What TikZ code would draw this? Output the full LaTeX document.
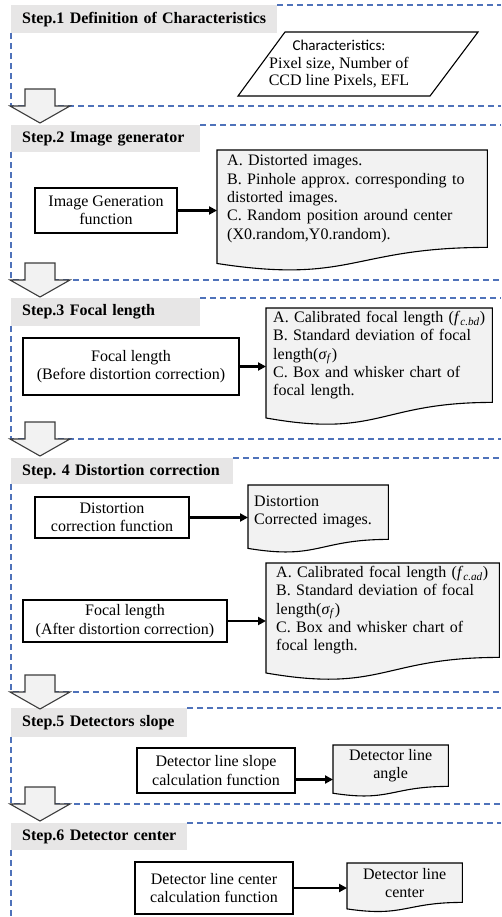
\documentclass[tikz,border=0pt]{standalone}
\usepackage{fontspec}
\setmainfont{Liberation Serif}
\newfontfamily\charfont{Carlito}
\usetikzlibrary{arrows.meta,backgrounds,calc}

\definecolor{framecol}{RGB}{79,114,186}
\definecolor{bandgray}{RGB}{231,230,230}
\definecolor{docgray}{RGB}{242,242,242}
\definecolor{arrgray}{RGB}{60,60,60}

\tikzset{
  stepband/.style={rectangle, fill=bandgray, anchor=north west,
    inner xsep=11pt, inner ysep=0pt, minimum height=28pt, align=left,
    font=\fontsize{16}{18}\selectfont\bfseries},
  procbox/.style={rectangle, draw, fill=white, line width=1.2pt, align=center},
  procline/.style={draw, line width=1.1pt},
  docbox/.style={rectangle, anchor=north west, inner ysep=2pt, align=left},
  docline/.style={draw, fill=docgray, line width=1.1pt},
  flowarrow/.style={-{Triangle[length=8pt,width=8pt]}, line width=2.2pt},
  stepframe/.style={draw=framecol, line width=1.2pt, dash pattern=on 6pt off 4pt},
  blockarr/.style={draw=arrgray, fill=docgray, line width=1.1pt}
}

\newcommand{\docwave}[1]{%
  \begin{scope}[on background layer]
    \draw[docline] let \p1=(#1.south west), \p2=(#1.north east),
      \p3=($(#1.south west)!0.5!(#1.south east)$) in
      (\x1,\y2) -- (\x2,\y2) -- (\x2,\y1)
      .. controls (\x3,\y1) and (\x3,{\y1-0.38*(\y2-\y1)}) .. (\x1,{\y1-0.165*(\y2-\y1)}) -- cycle;
  \end{scope}}
\newcommand{\blockdown}[1]{%
  \draw[blockarr] (25,#1-17) -- (55,#1-17) -- (55,#1) -- (70,#1) -- (40,#1+17) -- (10,#1) -- (25,#1) -- cycle;}

\begin{document}
\frenchspacing
\begin{tikzpicture}[x=1pt, y=-1pt, font=\fontsize{16}{18.3}\selectfont]
\useasboundingbox (0,0) rectangle (501,917);
\coordinate (edge) at (501,0);

\node[stepband, text width=244pt] (s1) at (11,5) {\mbox{Step.1 Definition of Characteristics}};
\node[stepband, text width=167pt, minimum height=27pt] (s2) at (11,125) {\mbox{Step.2 Image generator}};
\node[stepband, text width=167pt] (s3) at (11,298) {\mbox{Step.3 Focal length}};
\node[stepband, text width=200pt, minimum height=26pt] (s4) at (11,458) {\mbox{Step. 4 Distortion correction}};
\node[stepband, text width=154pt, minimum height=29pt] (s5) at (11,708) {\mbox{Step.5 Detectors slope}};
\node[stepband, text width=154pt, minimum height=27pt] (s6) at (11,823) {\mbox{Step.6 Detector center}};

\foreach \s/\b in {s1/106, s2/280, s3/439, s4/692, s5/804, s6/940} {
  \coordinate (bot) at (0,\b);
  \draw[stepframe] (\s.north east) -- (\s.north east -| edge);
  \draw[stepframe] (\s.south west) |- (edge |- bot);
}

\node[align=center, font=\fontsize{16}{17.5}\selectfont] (chars) at (339,64.5)
  {{\charfont\fontsize{15}{17.5}\selectfont Characteristics:}\\Pixel size, Number of\\CCD line Pixels, EFL};
\draw[procline] (238,96) -- (285,32) -- (478,32) -- (430,96) -- cycle;

\node[procbox, minimum width=142pt, minimum height=45pt] (imggen) at (106,210.5) {Image Generation\\function};
\node[docbox, inner xsep=10pt, text width=250pt, minimum height=97pt] (imgout) at (217,150)
  {A. Distorted images.\\B. Pinhole approx. corresponding to\\distorted images.\\C. Random position around center\\(X0.random,Y0.random).};
\docwave{imgout}
\draw[flowarrow] (imggen.east) -- (imggen.east -| imgout.west);

\node[procbox, minimum width=216pt, minimum height=57pt] (fbefore) at (131,366.5) {Focal length\\(Before distortion correction)};
\node[docbox, inner xsep=7pt, text width=212pt, minimum height=94pt] (fbout) at (266,308)
  {A. Calibrated focal length (\textit{f}\textsubscript{\textit{c.bd}})\\B. Standard deviation of focal\\length(\textit{σ}\textsubscript{\textit{f}})\\C. Box and whisker chart of\\focal length.};
\docwave{fbout}
\draw[flowarrow] (fbefore.east) -- (fbefore.east -| fbout.west);

\node[procbox, minimum width=154pt, minimum height=41pt] (distfn) at (112,517.5) {Distortion\\correction function};
\node[docbox, inner xsep=6pt, text width=128pt, minimum height=54pt] (distout) at (248,485)
  {Distortion\\Corrected images.};
\docwave{distout}
\draw[flowarrow] (distfn.east) -- (distfn.east -| distout.west);

\node[procbox, minimum width=204pt, minimum height=42pt] (fafter) at (125,621) {Focal length\\(After distortion correction)};
\node[docbox, inner xsep=10pt, text width=213pt, minimum height=94pt] (faout) at (266,563)
  {A. Calibrated focal length (\textit{f}\textsubscript{\textit{c.ad}})\\B. Standard deviation of focal\\length(\textit{σ}\textsubscript{\textit{f}})\\C. Box and whisker chart of\\focal length.};
\docwave{faout}
\draw[flowarrow] (fafter.east) -- (fafter.east -| faout.west);

\node[procbox, minimum width=158pt, minimum height=45pt] (slopefn) at (216,770.5) {Detector line slope\\calculation function};
\node[docbox, align=center, minimum width=115pt, minimum height=41pt] (slopeout) at (333,745) {Detector line\\angle};
\docwave{slopeout}
\draw[flowarrow] ([yshift=-9pt]slopefn.east) -- ([yshift=-9pt]slopefn.east -| slopeout.west);

\node[procbox, minimum width=158pt, minimum height=52pt] (centfn) at (214,888) {Detector line center\\calculation function};
\node[docbox, align=center, minimum width=115pt, minimum height=39pt] (centout) at (347,863) {Detector line\\center};
\docwave{centout}
\draw[flowarrow] (centfn.east) -- (centfn.east -| centout.west);

\blockdown{106}
\blockdown{280}
\blockdown{439}
\blockdown{692}
\blockdown{804}
\end{tikzpicture}
\end{document}
